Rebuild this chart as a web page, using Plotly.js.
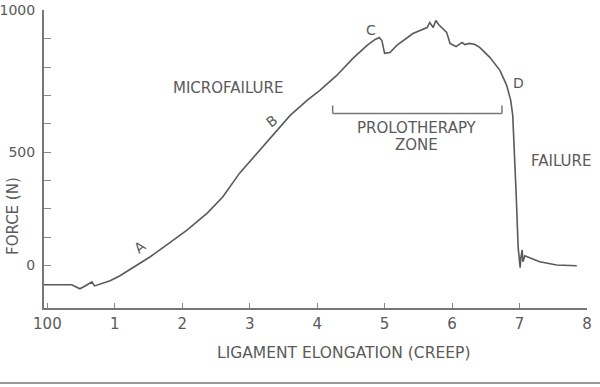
<!DOCTYPE html>
<html><head><meta charset="utf-8">
<script src="https://cdn.plot.ly/plotly-3.0.1.min.js"></script>
<style>html,body{margin:0;padding:0;background:#fff}#chart{width:600px;height:387px}</style>
</head><body><div id="chart"></div>
<script>
// Elongation (x) and force (y)
const elongation = [-0.05,0.19,0.36,0.42,0.48,0.54,0.60,0.66,0.70,0.75,0.82,0.93,1.07,1.22,1.37,1.52,1.77,2.07,2.37,2.60,2.85,3.11,3.34,3.60,3.85,4.04,4.29,4.53,4.74,4.86,4.92,4.96,5.00,5.08,5.18,5.42,5.63,5.67,5.72,5.76,5.80,5.85,5.92,5.97,6.01,6.06,6.10,6.15,6.19,6.26,6.34,6.41,6.56,6.71,6.81,6.87,6.90,6.92,6.95,6.98,7.00,7.01,7.02,7.04,7.05,7.08,7.15,7.30,7.55,7.85];
const force = [32,32,32,25,18,25,35,42,28,32,39,46,63,85,106,130,173,225,285,342,426,496,560,630,683,718,771,831,877,898,905,894,849,852,877,919,940,958,940,965,951,940,923,884,880,873,880,887,880,884,880,870,835,789,736,683,630,532,356,165,113,92,127,155,113,134,127,113,102,99];

const xTickVals = [0,1,2,3,4,5,6,7,8];
const xTickText = ['100','1','2','3','4','5','6','7','8'];
const yTickVals = [100,200,300,400,500,600,700,800,900,1000];
const yTickText = ['0','','','','500','','','','','1000'];

const pointLabels = ['A','B','C','D'];
const pointX = [1.37,3.33,4.80,6.98];
const pointY = [165,609,933,743];
const pointAngle = [-38,-38,0,0];

const zoneLabels = ['MICROFAILURE','PROLOTHERAPY','ZONE','FAILURE'];
const zoneX = [2.68,5.48,5.48,7.61];
const zoneY = [725,585,525,468];

const bracketX = [4.23,6.74];
const bracketY = [637,665];

const grey = '#5a5a5a';
const fontFam = '"DejaVu Sans", sans-serif';

const annotations = [];
pointLabels.forEach((t,i)=>annotations.push({x:pointX[i],y:pointY[i],xref:'x',yref:'y',xanchor:'center',yanchor:'middle',text:t,showarrow:false,textangle:pointAngle[i],font:{family:fontFam,size:14,color:grey}}));
zoneLabels.forEach((t,i)=>annotations.push({x:zoneX[i],y:zoneY[i],xref:'x',yref:'y',xanchor:'center',yanchor:'middle',text:t,showarrow:false,font:{family:fontFam,size:15,color:grey}}));
annotations.push({x:-0.057,y:0.309,xref:'paper',yref:'paper',xanchor:'center',yanchor:'middle',text:'FORCE (N)',textangle:-90,showarrow:false,font:{family:fontFam,size:15,color:grey}});
annotations.push({x:0.551,y:-0.151,xref:'paper',yref:'paper',xanchor:'center',yanchor:'middle',text:'LIGAMENT ELONGATION (CREEP)',showarrow:false,font:{family:fontFam,size:15.5,color:grey}});

const shapes = [
  {type:'line',xref:'x',yref:'y',x0:bracketX[0],x1:bracketX[1],y0:bracketY[0],y1:bracketY[0],line:{color:'#777',width:1.5}},
  {type:'line',xref:'x',yref:'y',x0:bracketX[0],x1:bracketX[0],y0:bracketY[0],y1:bracketY[1],line:{color:'#777',width:1.5}},
  {type:'line',xref:'x',yref:'y',x0:bracketX[1],x1:bracketX[1],y0:bracketY[0],y1:bracketY[1],line:{color:'#777',width:1.5}},
  {type:'line',xref:'paper',yref:'paper',x0:-0.09,x1:1.03,y0:-0.252,y1:-0.252,line:{color:'#999',width:2}}
];

Plotly.newPlot('chart',[{
  x:elongation,y:force,type:'scatter',mode:'lines',line:{color:grey,width:1.6},hoverinfo:'skip'
}],{
  width:600,height:387,
  margin:{l:44,r:13,t:10,b:79},
  paper_bgcolor:'#fff',plot_bgcolor:'#fff',
  showlegend:false,
  font:{family:fontFam,color:grey},
  xaxis:{range:[-0.05,8.001],tickmode:'array',tickvals:xTickVals,ticktext:xTickText,ticks:'inside',ticklen:5,tickcolor:'#888',tickwidth:1,
    showline:true,linecolor:'#777',linewidth:2,showgrid:false,zeroline:false,tickfont:{family:fontFam,size:15,color:grey},ticklabelstandoff:1},
  yaxis:{range:[-50,1002],tickmode:'array',tickvals:yTickVals,ticktext:yTickText,ticks:'inside',ticklen:7,tickcolor:'#888',tickwidth:1,
    showline:true,linecolor:'#777',linewidth:2,showgrid:false,zeroline:false,tickfont:{family:fontFam,size:14,color:grey},ticklabelstandoff:4},
  annotations:annotations,shapes:shapes
},{staticPlot:true});
</script></body></html>
